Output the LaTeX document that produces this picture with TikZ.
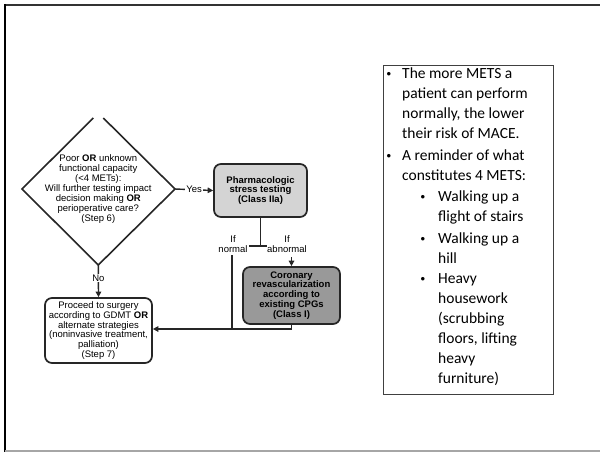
\documentclass[tikz,border=0pt]{standalone}
\usepackage{fontspec}
\setmainfont{Carlito}
\newfontfamily\flowfont{Liberation Sans}
\usetikzlibrary{arrows.meta}

% text styles
\newcommand{\flowtext}{\flowfont\fontsize{9.5}{9.9}\selectfont}
\newcommand{\dotmark}{{\flowfont\fontsize{13}{13}\selectfont\textbullet}}
\newcommand{\bitem}{\makebox[16pt][l]{\hspace{0.5pt}\dotmark}}
\newcommand{\bcont}{\hspace*{16pt}}
\newcommand{\sitem}{\hspace*{34pt}\makebox[18pt][l]{\hspace{0.5pt}\dotmark}}
\newcommand{\scont}{\hspace*{52pt}}

\begin{document}
\begin{tikzpicture}[x=1pt,y=-1pt,
  flowline/.style={draw=black!85, line width=1.4pt},
  arr/.style={flowline, -{Triangle[length=5.5pt,width=5.5pt]}},
  card/.style={draw=black!85, line width=1.7pt, rounded corners=7pt,
    inner sep=0pt, align=center, font=\flowtext},
  lbl/.style={inner sep=1pt, align=center, font=\flowtext},
]
\useasboundingbox (0,0) rectangle (600,452);

% slide frame
\draw[black!80, line width=2pt] (4,5) -- (600,5);
\draw[black, line width=2.4pt] (5,4) -- (5,452);
\draw[black!35, line width=1.5pt] (5,451) -- (600,451);

% decision diamond (top cut off)
\coordinate (dL) at (22,189);
\coordinate (dR) at (175,189);
\coordinate (dB) at (98.3,265);
\draw[black!85, line width=1.6pt, line join=miter]
  (93.3,118) -- (dL) -- (dB) -- (dR) -- (103.3,118);
\node[lbl] (dq) at (98.3,189)
  {Poor \textbf{OR} unknown\\functional capacity\\(<4 METs):\\Will further testing impact\\decision making \textbf{OR}\\perioperative care?\\(Step 6)};

% boxes
\node[card, fill=black!17, minimum width=93pt, minimum height=53pt,
  font=\flowtext\bfseries] (pharm) at (260.5,190.5)
  {Pharmacologic\\stress testing\\(Class IIa)};
\node[card, fill=black!40, minimum width=97pt, minimum height=57pt,
  font=\flowtext\bfseries] (coro) at (291.5,295.5)
  {Coronary\\revascularization\\according to\\existing CPGs\\(Class I)};
\node[card, fill=white, minimum width=107pt, minimum height=65pt] (proc) at (98.5,330.5)
  {Proceed to surgery\\according to GDMT \textbf{OR}\\alternate strategies\\(noninvasive treatment,\\palliation)\\(Step 7)};

% connectors
\draw[arr] (dR) -- node[lbl, fill=white] (yes) {Yes} (pharm.west);
\draw[arr] (dB) -- node[lbl, fill=white, pos=0.4] (no) {No} (proc.north);

\coordinate (tee) at (260.5,246);
\coordinate (teeL) at (249,246);
\coordinate (teeR) at (267,246);
\draw[flowline] (pharm.south) -- (tee);
\draw[flowline] (teeL) -- (teeR);

\node[lbl] (ifn) at (233,244) {If\\normal};
\node[lbl] (ifab) at (287,244) {If\\abnormal};

\coordinate (nTop) at (232,255);
\coordinate (nJoin) at (232,329);
\draw[flowline] (nTop) -- (nJoin);

\coordinate (abTop) at (291.5,257);
\draw[arr] (abTop) -- (coro.north);

\draw[arr] (coro.south) -- (coro.south |- nJoin) -- (nJoin -| proc.east);

% notes box
\node[draw=black!75, line width=0.8pt, minimum width=170pt, minimum height=329pt,
  anchor=north west, inner sep=0pt] (infobox) at (383,65) {};
\node[anchor=north west, inner sep=0pt, align=left,
  font=\fontsize{15.5}{20}\selectfont] (infotext) at (386,68)
  {\bitem The more METS a\\
   \bcont patient can perform\\
   \bcont normally, the lower\\
   \bcont their risk of MACE.\\[2pt]
   \bitem A reminder of what\\
   \bcont constitutes 4 METS:\\[1pt]
   \sitem Walking up a\\
   \scont flight of stairs\\[2pt]
   \sitem Walking up a\\
   \scont hill\\
   \sitem Heavy\\
   \scont housework\\
   \scont (scrubbing\\
   \scont floors, lifting\\
   \scont heavy\\
   \scont furniture)};
\end{tikzpicture}
\end{document}
